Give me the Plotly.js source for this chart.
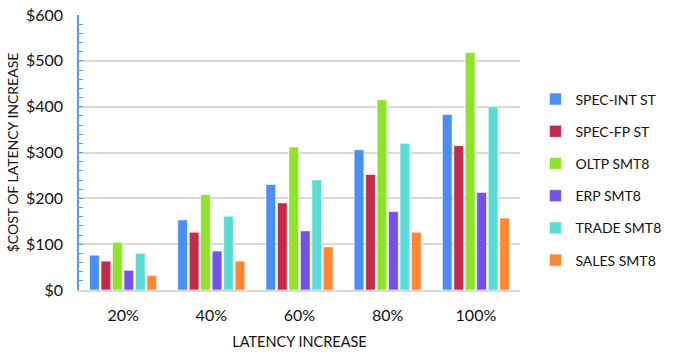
<!DOCTYPE html>
<html>
<head>
<meta charset="utf-8">
<script src="https://cdn.plot.ly/plotly-3.0.1.min.js"></script>
<style>
  body { margin: 0; background: #fff; }
  #chart { width: 678px; height: 355px; }
</style>
</head>
<body>
<div id="chart"></div>
<script>
// categories and series
const latency = ['20%', '40%', '60%', '80%', '100%'];
const specInt = [76, 153, 230, 306, 383];
const specFp = [63, 126, 190, 252, 315];
const oltp = [104, 208, 312, 415, 518];
const erp = [43, 85, 129, 171, 213];
const trade = [80, 161, 240, 320, 400];
const sales = [32, 63, 94, 126, 157];

const seriesNames = ['SPEC-INT ST', 'SPEC-FP ST', 'OLTP SMT8', 'ERP SMT8', 'TRADE SMT8', 'SALES SMT8'];
const seriesValues = [specInt, specFp, oltp, erp, trade, sales];
const colors = ['#4a8ff5', '#c42b4a', '#8fe32a', '#7252e8', '#5adcd4', '#ff8633'];

const traces = seriesNames.map((name, i) => ({
  x: latency,
  y: seriesValues[i],
  type: 'bar',
  name: name,
  legendgroup: 'g' + i,
  marker: { color: colors[i], line: { color: 'rgba(255,255,255,0.6)', width: 1 } }
}));

const layout = {
  width: 678,
  height: 355,
  margin: { l: 79, r: 144, t: 15, b: 65 },
  paper_bgcolor: '#fff',
  plot_bgcolor: '#fff',
  font: { family: 'Lato, "Open Sans", sans-serif', size: 16, color: '#111' },
  barmode: 'group',
  bargap: 0.22,
  bargroupgap: 0.15,
  xaxis: {
    type: 'category',
    title: { text: 'LATENCY INCREASE', font: { size: 14.5 }, standoff: 14 },
    showline: true,
    linecolor: '#d9d9d9',
    linewidth: 2,
    ticks: '',
    ticklabelstandoff: 10,
    tickfont: { size: 16 }
  },
  yaxis: {
    title: { text: '$COST OF LATENCY INCREASE', font: { size: 14 }, standoff: 4 },
    range: [0, 600],
    dtick: 100,
    tickprefix: '$',
    showgrid: true,
    gridcolor: '#d9d9d9',
    gridwidth: 1.5,
    zeroline: false,
    showline: true,
    linecolor: '#5b9bf0',
    linewidth: 1.5,
    ticks: 'inside',
    ticklen: 4,
    tickcolor: '#5b9bf0',
    minor: { dtick: 20, ticks: 'inside', ticklen: 4, tickcolor: '#5b9bf0', showgrid: false },
    ticklabelstandoff: 11,
    tickfont: { size: 16 }
  },
  legend: {
    x: 1.035,
    xanchor: 'left',
    y: 0.4,
    yanchor: 'middle',
    font: { size: 14 },
    tracegroupgap: 11,
    itemwidth: 30
  }
};

Plotly.newPlot('chart', traces, layout, { displayModeBar: false });
</script>
</body>
</html>
